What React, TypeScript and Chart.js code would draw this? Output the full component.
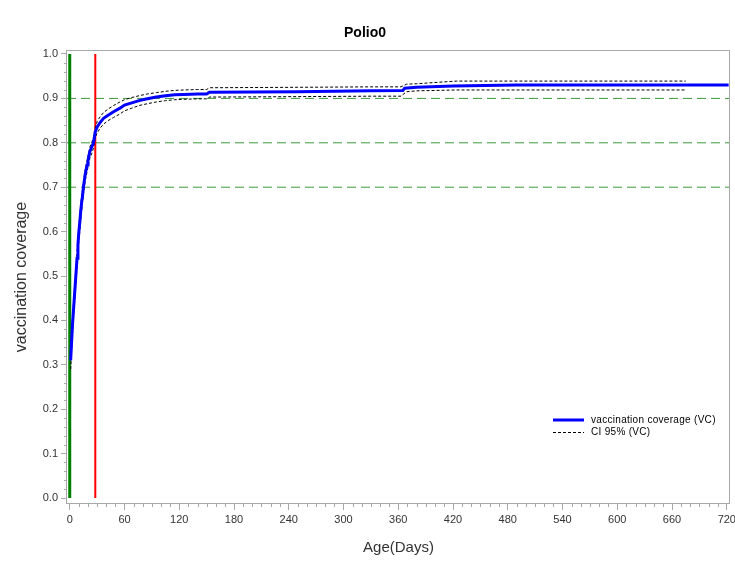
import React, { useEffect, useRef } from 'react';
import { Chart, registerables } from 'chart.js';

Chart.register(...registerables);

const FONT = '"Liberation Sans", Arial, sans-serif';

const chartTitle = 'Polio0';
const xAxisTitle = 'Age(Days)';
const yAxisTitle = 'vaccination coverage';
const legendLabels = ['vaccination coverage (VC)', 'CI 95% (VC)'];

const xMin = -3;
const xMax = 723.5;
const yMin = -0.0135;
const yMax = 1.009;

const xTickValues = [0, 60, 120, 180, 240, 300, 360, 420, 480, 540, 600, 660, 720];
const yTickValues = [0, 0.1, 0.2, 0.3, 0.4, 0.5, 0.6, 0.7, 0.8, 0.9, 1.0];

const refLevels = [0.7, 0.8, 0.9];
const greenLineDay = 0;
const redLineDay = 28;

const vcDays = [1, 2, 3, 4, 5, 6, 7, 8, 9, 10, 11, 12, 13, 14, 15, 16, 17, 18, 19, 20, 21, 22,
  24, 26, 28, 30, 33, 37, 42, 48, 55, 60,
  68, 76, 85, 95, 105, 115, 125, 140, 150,
  153, 250, 330, 365, 367, 380, 420, 490, 722];
const vcValues = [0.31, 0.35, 0.39, 0.42, 0.45, 0.48, 0.51, 0.54, 0.57, 0.60, 0.62, 0.645, 0.665, 0.68, 0.70, 0.715, 0.73, 0.74, 0.75, 0.76, 0.77, 0.78,
  0.79, 0.80, 0.825, 0.835, 0.845, 0.855, 0.862, 0.870, 0.878, 0.885,
  0.890, 0.895, 0.899, 0.903, 0.906, 0.908, 0.909, 0.910, 0.910,
  0.914, 0.915, 0.917, 0.918, 0.923, 0.925, 0.928, 0.930, 0.930];

const ciDays = [1, 2, 3, 4, 5, 6, 7, 8, 9, 10, 11, 12, 13, 14, 15, 16, 17, 18, 19, 20, 21, 22,
  24, 26, 28, 30, 33, 37, 42, 48, 55, 60,
  68, 76, 85, 95, 105, 115, 125, 140, 150,
  153, 250, 330, 363, 369, 380, 424, 675];
const ciUpper = [0.33, 0.37, 0.405, 0.435, 0.465, 0.495, 0.525, 0.555, 0.585, 0.615, 0.635, 0.66, 0.68, 0.695, 0.71, 0.725, 0.74, 0.75, 0.76, 0.77, 0.78, 0.79,
  0.80, 0.812, 0.835, 0.848, 0.858, 0.868, 0.876, 0.884, 0.892, 0.897,
  0.902, 0.906, 0.910, 0.913, 0.916, 0.918, 0.919, 0.920, 0.920,
  0.924, 0.925, 0.926, 0.926, 0.932, 0.933, 0.939, 0.939];
const ciLower = [0.29, 0.33, 0.37, 0.40, 0.43, 0.46, 0.49, 0.52, 0.55, 0.58, 0.60, 0.625, 0.645, 0.665, 0.685, 0.70, 0.715, 0.725, 0.735, 0.745, 0.755, 0.765,
  0.775, 0.788, 0.812, 0.822, 0.832, 0.842, 0.85, 0.857, 0.865, 0.872,
  0.878, 0.884, 0.888, 0.892, 0.895, 0.897, 0.898, 0.899, 0.899,
  0.903, 0.904, 0.905, 0.905, 0.915, 0.917, 0.919, 0.919];

const AXIS_GRAY = '#a8a8a8';
const TEXT_GRAY = '#333333';
const REF_GREEN = '#3c9a3c';

const toPoints = (xs: number[], ys: number[]) => xs.map((x, i) => ({ x, y: ys[i] }));

const framePlugin = {
  id: 'frameAndMinor',
  afterDraw(chart: any) {
    const { ctx, chartArea } = chart;
    const xs = chart.scales.x;
    const ys = chart.scales.y;
    ctx.save();
    ctx.strokeStyle = AXIS_GRAY;
    ctx.lineWidth = 1;
    ctx.strokeRect(Math.round(chartArea.left) - 0.5, Math.round(chartArea.top) + 0.5,
      Math.round(chartArea.right) - Math.round(chartArea.left), Math.round(chartArea.bottom) - Math.round(chartArea.top) - 1);
    ctx.beginPath();
    for (let i = 0; i < xTickValues.length - 1; i++) {
      const a = xTickValues[i];
      const b = xTickValues[i + 1];
      for (let k = 1; k < 6; k++) {
        const px = Math.round(xs.getPixelForValue(a + (k * (b - a)) / 6)) + 0.5;
        ctx.moveTo(px, chartArea.bottom);
        ctx.lineTo(px, chartArea.bottom + 3);
      }
    }
    for (let i = 0; i < yTickValues.length - 1; i++) {
      const a = yTickValues[i];
      const b = yTickValues[i + 1];
      for (let k = 1; k < 5; k++) {
        const py = Math.round(ys.getPixelForValue(a + (k * (b - a)) / 5)) + 0.5;
        ctx.moveTo(chartArea.left, py);
        ctx.lineTo(chartArea.left - 3, py);
      }
    }
    ctx.stroke();

    // legend
    const lx = 553;
    const ly = 420;
    ctx.strokeStyle = '#0000ff';
    ctx.lineWidth = 3;
    ctx.setLineDash([]);
    ctx.beginPath();
    ctx.moveTo(lx, ly);
    ctx.lineTo(lx + 31, ly);
    ctx.stroke();
    ctx.strokeStyle = '#000000';
    ctx.lineWidth = 1;
    ctx.setLineDash([3, 2]);
    ctx.beginPath();
    ctx.moveTo(lx, ly + 12.5);
    ctx.lineTo(lx + 31, ly + 12.5);
    ctx.stroke();
    ctx.setLineDash([]);
    ctx.fillStyle = '#000000';
    ctx.font = '10px ' + FONT;
    (ctx as any).letterSpacing = '0.3px';
    ctx.textBaseline = 'middle';
    ctx.textAlign = 'left';
    ctx.fillText(legendLabels[0], lx + 38, ly);
    ctx.fillText(legendLabels[1], lx + 38, ly + 12);
    ctx.restore();
  },
};

export default function App() {
  const ref = useRef<HTMLCanvasElement | null>(null);
  useEffect(() => {
    if (!ref.current) return;
    const lineBase = { pointRadius: 0, fill: false, tension: 0 };
    const datasets: any[] = [
      {
        ...lineBase,
        label: legendLabels[0],
        data: toPoints(vcDays, vcValues),
        borderColor: '#0000ff',
        borderWidth: 3,
      },
      {
        ...lineBase,
        label: legendLabels[1],
        data: toPoints(ciDays, ciUpper),
        borderColor: '#000000',
        borderWidth: 1,
        borderDash: [3, 2],
      },
      {
        ...lineBase,
        label: 'CI lower',
        data: toPoints(ciDays, ciLower),
        borderColor: '#000000',
        borderWidth: 1,
        borderDash: [3, 2],
      },
      {
        ...lineBase,
        label: 'red',
        data: [{ x: redLineDay, y: 0 }, { x: redLineDay, y: 1 }],
        borderColor: '#ff0000',
        borderWidth: 2,
      },
      {
        ...lineBase,
        label: 'green',
        data: [{ x: greenLineDay, y: 0 }, { x: greenLineDay, y: 1 }],
        borderColor: '#008000',
        borderWidth: 3,
      },
      ...refLevels.map((lv) => ({
        ...lineBase,
        label: 'ref ' + lv,
        data: [{ x: xMin, y: lv }, { x: xMax, y: lv }],
        borderColor: REF_GREEN,
        borderWidth: 1,
        borderDash: [9, 5],
      })),
    ];

    const chart = new Chart(ref.current, {
      type: 'line',
      data: { datasets },
      plugins: [framePlugin],
      options: {
        animation: false,
        responsive: false,
        maintainAspectRatio: false,
        layout: { padding: { top: 0, right: 5, bottom: 0, left: 0 } },
        plugins: {
          legend: { display: false },
          tooltip: { enabled: false },
          title: {
            display: true,
            text: chartTitle,
            color: '#000000',
            font: { family: FONT, size: 14, weight: 'bold' },
            padding: { top: 24.6, bottom: 8.6 },
          },
        },
        scales: {
          x: {
            type: 'linear',
            min: xMin,
            max: xMax,
            afterBuildTicks: (s: any) => {
              s.ticks = xTickValues.map((v) => ({ value: v }));
            },
            afterFit: (s: any) => {
              s.height = 58;
              s.paddingLeft = 0;
              s.paddingRight = 0;
            },
            ticks: {
              autoSkip: false,
              maxRotation: 0,
              color: TEXT_GRAY,
              padding: 3,
              font: { family: FONT, size: 11 },
              callback: (v: any) => String(v),
            },
            grid: { drawOnChartArea: false, drawTicks: true, tickLength: 6, color: AXIS_GRAY },
            border: { display: false },
            title: {
              display: true,
              text: xAxisTitle,
              color: TEXT_GRAY,
              font: { family: FONT, size: 15 },
              padding: { top: 0, bottom: 5 },
            },
          },
          y: {
            type: 'linear',
            min: yMin,
            max: yMax,
            afterBuildTicks: (s: any) => {
              s.ticks = yTickValues.map((v) => ({ value: v }));
            },
            afterFit: (s: any) => {
              s.width = 67;
              s.paddingTop = 0;
              s.paddingBottom = 0;
            },
            ticks: {
              autoSkip: false,
              color: TEXT_GRAY,
              padding: 3,
              font: { family: FONT, size: 11 },
              callback: (v: any) => Number(v).toFixed(1),
            },
            grid: { drawOnChartArea: false, drawTicks: true, tickLength: 6, color: AXIS_GRAY },
            border: { display: false },
            title: {
              display: true,
              text: yAxisTitle,
              color: TEXT_GRAY,
              font: { family: FONT, size: 16 },
              padding: { top: 12.4, bottom: 0 },
            },
          },
        },
      } as any,
    });
    return () => chart.destroy();
  }, []);

  return (
    <div style={{ position: 'fixed', left: 0, top: 0, width: 735, height: 562, background: '#ffffff' }}>
      <canvas ref={ref} width={735} height={562} style={{ display: 'block', width: 735, height: 562 }} />
    </div>
  );
}
